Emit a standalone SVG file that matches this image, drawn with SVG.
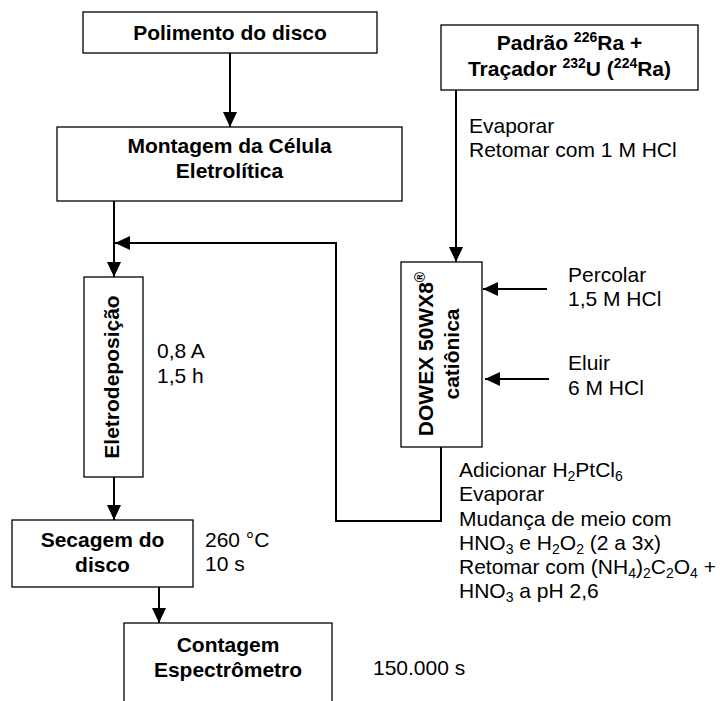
<svg xmlns="http://www.w3.org/2000/svg" width="720" height="701" viewBox="0 0 720 701">
<style>
text{font-family:"Liberation Sans",Arial,sans-serif;font-size:21px;fill:#000}
.b{font-weight:bold}
.m{text-anchor:middle}
.box{fill:#fff;stroke:#000;stroke-width:1.3}
.c{fill:none;stroke:#000;stroke-width:2}
.s{font-size:14px}
</style>
<defs>
<marker id="ah" markerUnits="userSpaceOnUse" markerWidth="15" markerHeight="14" refX="15" refY="7" orient="auto">
<path d="M0,0 L15,7 L0,14 z" fill="#000"/>
</marker>
</defs>
<g id="connectors">
<path class="c" d="M230,53 V127" marker-end="url(#ah)"/>
<path class="c" d="M114,201 V277" marker-end="url(#ah)"/>
<path class="c" d="M441,447 V521 H336 V243 H115" marker-end="url(#ah)"/>
<path class="c" d="M114,477 V520" marker-end="url(#ah)"/>
<path class="c" d="M159,587 V623" marker-end="url(#ah)"/>
<path class="c" d="M456,90 V262" marker-end="url(#ah)"/>
<path class="c" d="M547,289 H483" marker-end="url(#ah)"/>
<path class="c" d="M549,379 H485" marker-end="url(#ah)"/>
</g>
<g id="polimento">
<rect class="box" x="83" y="12" width="294" height="41"/>
<text class="b m" x="230" y="40">Polimento do disco</text>
</g>
<g id="montagem">
<rect class="box" x="57" y="127" width="345" height="74"/>
<text class="b m" x="229.5" y="153">Montagem da Célula</text>
<text class="b m" x="229.5" y="178">Eletrolítica</text>
</g>
<g id="padrao">
<rect class="box" x="441" y="25" width="257" height="65"/>
<text class="b m" x="569.5" y="50">Padrão <tspan class="s" dy="-8">226</tspan><tspan dy="8">Ra +</tspan></text>
<text class="b m" x="569.5" y="76">Traçador <tspan class="s" dy="-8">232</tspan><tspan dy="8">U (</tspan><tspan class="s" dy="-8">224</tspan><tspan dy="8">Ra)</tspan></text>
</g>
<g id="evaporar1">
<text x="469" y="133">Evaporar</text>
<text x="469" y="157">Retomar com 1 M HCl</text>
</g>
<g id="eletrodeposicao">
<rect class="box" x="84" y="277" width="59" height="200"/>
<text class="b m" transform="translate(119 377) rotate(-90)">Eletrodeposição</text>
</g>
<g id="eletro-cond">
<text x="157" y="358">0,8 A</text>
<text x="157" y="383">1,5 h</text>
</g>
<g id="dowex">
<rect class="box" x="401" y="262" width="81" height="185"/>
<text class="b m" transform="translate(433 354) rotate(-90)">DOWEX 50WX8<tspan class="s" dy="-8">®</tspan></text>
<text class="b m" transform="translate(459 354) rotate(-90)">catiônica</text>
</g>
<g id="percolar">
<text x="568" y="282">Percolar</text>
<text x="568" y="306">1,5 M HCl</text>
</g>
<g id="eluir">
<text x="568" y="370">Eluir</text>
<text x="568" y="395">6 M HCl</text>
</g>
<g id="adicionar">
<text x="459" y="477">Adicionar H<tspan class="s" dy="4">2</tspan><tspan dy="-4">PtCl</tspan><tspan class="s" dy="4">6</tspan></text>
<text x="459" y="501">Evaporar</text>
<text x="459" y="526">Mudança de meio com</text>
<text x="459" y="550">HNO<tspan class="s" dy="4">3</tspan><tspan dy="-4"> e H</tspan><tspan class="s" dy="4">2</tspan><tspan dy="-4">O</tspan><tspan class="s" dy="4">2</tspan><tspan dy="-4"> (2 a 3x)</tspan></text>
<text x="459" y="574">Retomar com (NH<tspan class="s" dy="4">4</tspan><tspan dy="-4">)</tspan><tspan class="s" dy="4">2</tspan><tspan dy="-4">C</tspan><tspan class="s" dy="4">2</tspan><tspan dy="-4">O</tspan><tspan class="s" dy="4">4</tspan><tspan dy="-4"> +</tspan></text>
<text x="459" y="598">HNO<tspan class="s" dy="4">3</tspan><tspan dy="-4"> a pH 2,6</tspan></text>
</g>
<g id="secagem">
<rect class="box" x="12" y="520" width="181" height="67"/>
<text class="b m" x="102.5" y="547">Secagem do</text>
<text class="b m" x="102.5" y="572">disco</text>
</g>
<g id="secagem-cond">
<text x="205" y="547">260 °C</text>
<text x="205" y="571">10 s</text>
</g>
<g id="contagem">
<rect class="box" x="124" y="623" width="208" height="90"/>
<text class="b m" x="228" y="652">Contagem</text>
<text class="b m" x="228" y="677">Espectrômetro</text>
</g>
<g id="contagem-cond">
<text x="373" y="675">150.000 s</text>
</g>
</svg>
